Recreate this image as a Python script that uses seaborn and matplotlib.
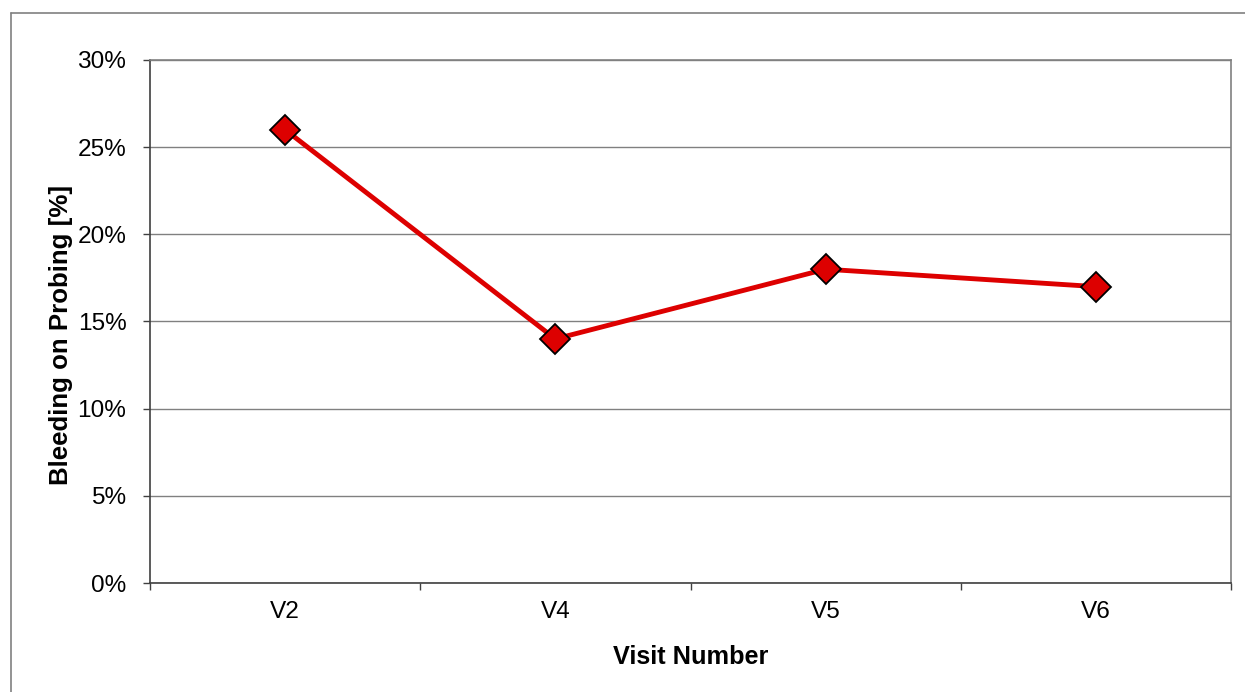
import matplotlib
matplotlib.use("Agg")
import matplotlib.pyplot as plt
import seaborn as sns
import numpy as np
from matplotlib.ticker import FixedLocator, PercentFormatter
from matplotlib.lines import Line2D

visits = ["V2", "V4", "V5", "V6"]
bop = [26, 14, 18, 17]
yticks = [0, 5, 10, 15, 20, 25, 30]

sns.set_theme(style="white")
plt.rcParams['font.family'] = ['Liberation Sans', 'DejaVu Sans']

fig = plt.figure(figsize=(12.45, 6.92), dpi=100)
ax = fig.add_axes([150/1245, 1-583/692, (1231-150)/1245, (583-60)/692])

sns.lineplot(x=visits, y=bop, ax=ax, color="#DD0000", linewidth=3.5,
             marker="D", markersize=15, markeredgecolor="black",
             markeredgewidth=1.3, markerfacecolor="#DD0000", zorder=5)

ax.set_xlim(-0.5, len(visits) - 0.5)
ax.set_ylim(0, 30)
ax.set_yticks(yticks)
ax.yaxis.set_major_formatter(PercentFormatter(decimals=0))
ax.yaxis.grid(True, color="#808080", linewidth=1.0)
ax.set_axisbelow(True)

ax.set_xticks(range(len(visits)))
ax.set_xticklabels(visits)
ax.xaxis.set_minor_locator(FixedLocator(np.arange(-0.5, len(visits), 1.0)))
ax.tick_params(axis="x", which="major", length=0, pad=13, labelsize=17.6, colors="black")
ax.tick_params(axis="x", which="minor", length=5, width=1, color="#404040", direction="out", bottom=True)
ax.tick_params(axis="y", length=5, width=1, color="#404040", direction="out", left=True, pad=12, labelsize=17.6, labelcolor="black")

for s in ["left", "bottom"]:
    ax.spines[s].set_color("#404040")
    ax.spines[s].set_linewidth(1.2)
for s in ["top", "right"]:
    ax.spines[s].set_color("#808080")
    ax.spines[s].set_linewidth(1.2)
    ax.spines[s].set_visible(True)

ax.set_xlabel("Visit Number", fontsize=18.2, fontweight="bold", color="black")
ax.set_ylabel("Bleeding on Probing [%]", fontsize=18.6, fontweight="bold", color="black")
ax.xaxis.set_label_coords(0.5, (583-645)/523)
ax.yaxis.set_label_coords((73-150)/1081, 0.475)

fx = 11/1245
fy = 1 - 13/692
fig.add_artist(Line2D([fx, fx], [0, fy], transform=fig.transFigure, color="#808080", linewidth=1.2))
fig.add_artist(Line2D([fx, 1], [fy, fy], transform=fig.transFigure, color="#808080", linewidth=1.2))

fig.savefig("out.png", dpi=100)
